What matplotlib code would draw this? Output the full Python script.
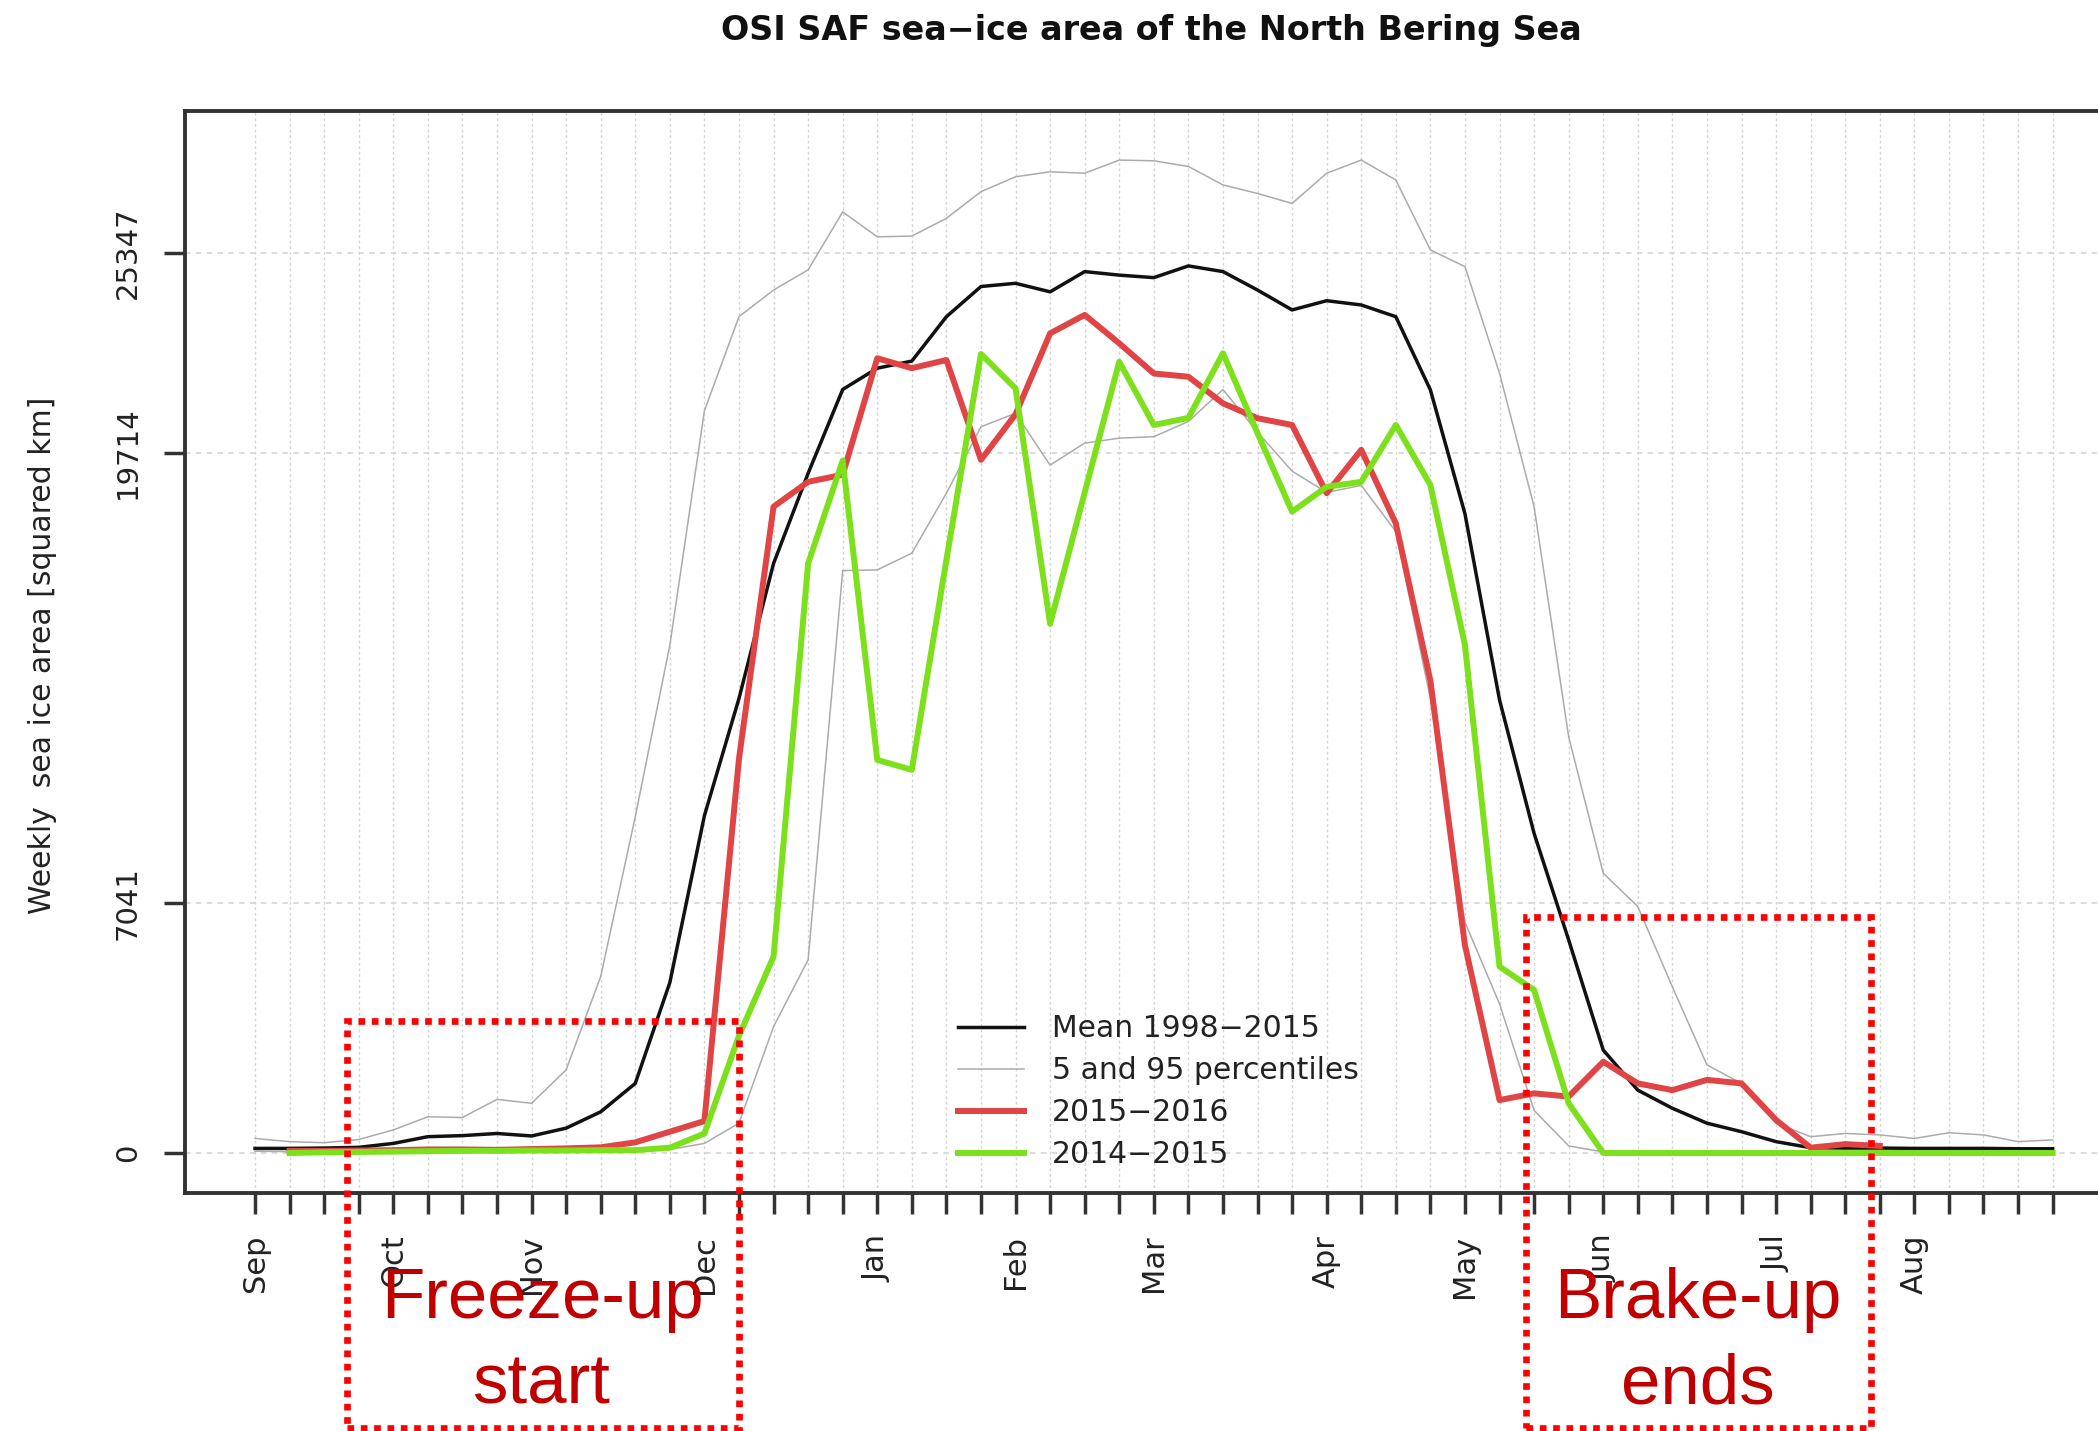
import numpy as np
import matplotlib
matplotlib.use("Agg")
import matplotlib.pyplot as plt
from matplotlib.patches import Rectangle

plt.rcParams['font.family'] = ['DejaVu Sans']

# weekly positions, week 0 = start of September
weeks = np.arange(53)
month_weeks = [0, 4, 8, 13, 18, 22, 26, 31, 35, 39, 44, 48]
month_labels = ['Sep', 'Oct', 'Nov', 'Dec', 'Jan', 'Feb', 'Mar', 'Apr',
                'May', 'Jun', 'Jul', 'Aug']
y_ticks = [0, 7041, 19714, 25347]

mean_1998_2015 = [130, 130, 140, 160, 270, 460, 490, 550, 480, 700,
                  1160, 1960, 4800, 9500, 12800, 16600, 19140, 21500, 22100, 22300,
                  23550, 24400, 24490, 24250, 24820, 24720, 24650, 24980, 24820, 24300,
                  23740, 24000, 23880, 23550, 21490, 18000, 12760, 9000, 6000, 2900,
                  1770, 1260, 840, 600, 320, 150, 140, 140, 130, 130,
                  130, 120, 120]

pct_95 = [410, 320, 290, 380, 650, 1020, 1000, 1510, 1400, 2340,
          4970, 9470, 14300, 20900, 23550, 24300, 24870, 26500, 25800, 25820,
          26320, 27070, 27490, 27630, 27590, 27960, 27940, 27780, 27260, 27020,
          26740, 27590, 27960, 27400, 25430, 24960, 21960, 18200, 11720, 7880,
          6940, 4680, 2480, 1960, 840, 460, 550, 510, 410, 570,
          510, 320, 370]

pct_05 = [50, 40, 40, 40, 40, 50, 50, 50, 50, 50,
          60, 70, 100, 270, 840, 3560, 5440, 16400, 16420, 16890,
          18580, 20450, 20830, 19370, 19990, 20130, 20170, 20600, 21500, 20300,
          19200, 18600, 18800, 17500, 12800, 6500, 4200, 1200, 200, 30,
          30, 30, 30, 30, 30, 30, 30, 30, 30, 30,
          30, 30, 30]

weeks_2015_2016 = np.arange(1, 48)
area_2015_2016 = [60, 60, 70, 80, 100, 100, 90, 110, 130, 160,
                  300, 600, 900, 11100, 18200, 18900, 19100, 22380, 22100, 22330,
                  19520, 20800, 23080, 23600, 22800, 21950, 21860, 21110, 20690, 20500,
                  18580, 19800, 17730, 13300, 5850, 1490, 1680, 1590, 2570, 1960,
                  1770, 2060, 1960, 930, 150, 250, 200]

weeks_2014_2015 = np.arange(1, 53)
area_2014_2015 = [0, 20, 30, 40, 50, 60, 60, 70, 70, 80,
                  80, 150, 550, 3300, 5530, 16600, 19500, 11070, 10790, 16700,
                  22500, 21530, 14900, 18600, 22280, 20500, 20700, 22520, 20270, 18060,
                  18760, 18900, 20500, 18810, 14300, 5250, 4590, 1400, 0, 0,
                  0, 0, 0, 0, 0, 0, 0, 0, 0, 0,
                  0, 0]

W, H = 2098, 1431
fig = plt.figure(figsize=(W / 100, H / 100), dpi=100)
ax = fig.add_axes([185 / W, 1 - 1193 / H, (2110 - 185) / W, (1193 - 111) / H])

for w in weeks:
    ax.axvline(w, color='#d4d4d4', lw=1.0, ls=(0, (2, 2)), zorder=0)
for yt in y_ticks:
    ax.axhline(yt, color='#d8d8d8', lw=1.3, ls=(0, (3, 3)), zorder=0)

ax.plot(weeks, pct_95, color='#ababab', lw=1.1, label='5 and 95 percentiles')
ax.plot(weeks, pct_05, color='#ababab', lw=1.1)
ax.plot(weeks, mean_1998_2015, color='#111111', lw=2.5, label='Mean 1998\u22122015')
ax.plot(weeks_2015_2016, area_2015_2016, color='#e04444', lw=4.3, label='2015\u22122016')
ax.plot(weeks_2014_2015, area_2014_2015, color='#7ce01c', lw=4.3, label='2014\u22122015')

ax.set_xlim((185 - 255) / 34.57, (2110 - 255) / 34.57)
ax.set_ylim(-1126, 29342)

ax.set_xticks(weeks)
ax.set_xticklabels([month_labels[month_weeks.index(w)] if w in month_weeks else ''
                    for w in weeks], rotation=90, fontsize=22, color='#222222')
ax.set_yticks(y_ticks)
ax.set_yticklabels([str(v) for v in y_ticks], rotation=90, fontsize=21,
                   va='center', color='#222222')
ax.tick_params(axis='x', length=15, width=2.5, pad=15, color='#333333')
ax.tick_params(axis='y', length=15, width=2.5, pad=16, color='#333333')

for side in ['left', 'bottom', 'top']:
    ax.spines[side].set_linewidth(2.8)
    ax.spines[side].set_color('#333333')
ax.spines['right'].set_visible(False)

handles, labels = ax.get_legend_handles_labels()
order = [1, 0, 2, 3]
leg = ax.legend([handles[i] for i in order], [labels[i] for i in order],
                loc='upper left', bbox_to_anchor=(958 / W, 1 - 1014 / H),
                bbox_transform=fig.transFigure, frameon=False, fontsize=21.5,
                handlelength=2.2, handletextpad=0.95, labelspacing=0.44,
                borderpad=0, borderaxespad=0)
for t in leg.get_texts():
    t.set_color('#222222')

fig.text(1151 / W, 1 - 40 / H, 'OSI SAF sea\u2212ice area of the North Bering Sea',
         ha='center', va='baseline', fontsize=24, fontweight='bold', color='#111111')
fig.text(43 / W, 1 - 655 / H, 'Weekly  sea ice area [squared km]', rotation=90,
         ha='center', va='center', fontsize=21.5, color='#222222')

# annotation boxes
for x0, x1, y0 in [(347, 739, 1021), (1526, 1871, 917)]:
    fig.add_artist(Rectangle((x0 / W, 1 - 1428 / H), (x1 - x0) / W, (1428 - y0) / H,
                             transform=fig.transFigure, fill=False, edgecolor='#ff0000',
                             lw=4.8, ls=(0, (1, 1)), zorder=5))

ann_font = ['Liberation Sans', 'DejaVu Sans']
fig.text(542 / W, 1 - 1318 / H, 'Freeze-up', ha='center', va='baseline',
         fontsize=51, color='#c00000', family=ann_font, zorder=6)
fig.text(542 / W, 1 - 1403 / H, 'start', ha='center', va='baseline',
         fontsize=51, color='#c00000', family=ann_font, zorder=6)
fig.text(1698 / W, 1 - 1318 / H, 'Brake-up', ha='center', va='baseline',
         fontsize=51, color='#c00000', family=ann_font, zorder=6)
fig.text(1698 / W, 1 - 1403 / H, 'ends', ha='center', va='baseline',
         fontsize=51, color='#c00000', family=ann_font, zorder=6)

fig.savefig('out.png', dpi=100)
